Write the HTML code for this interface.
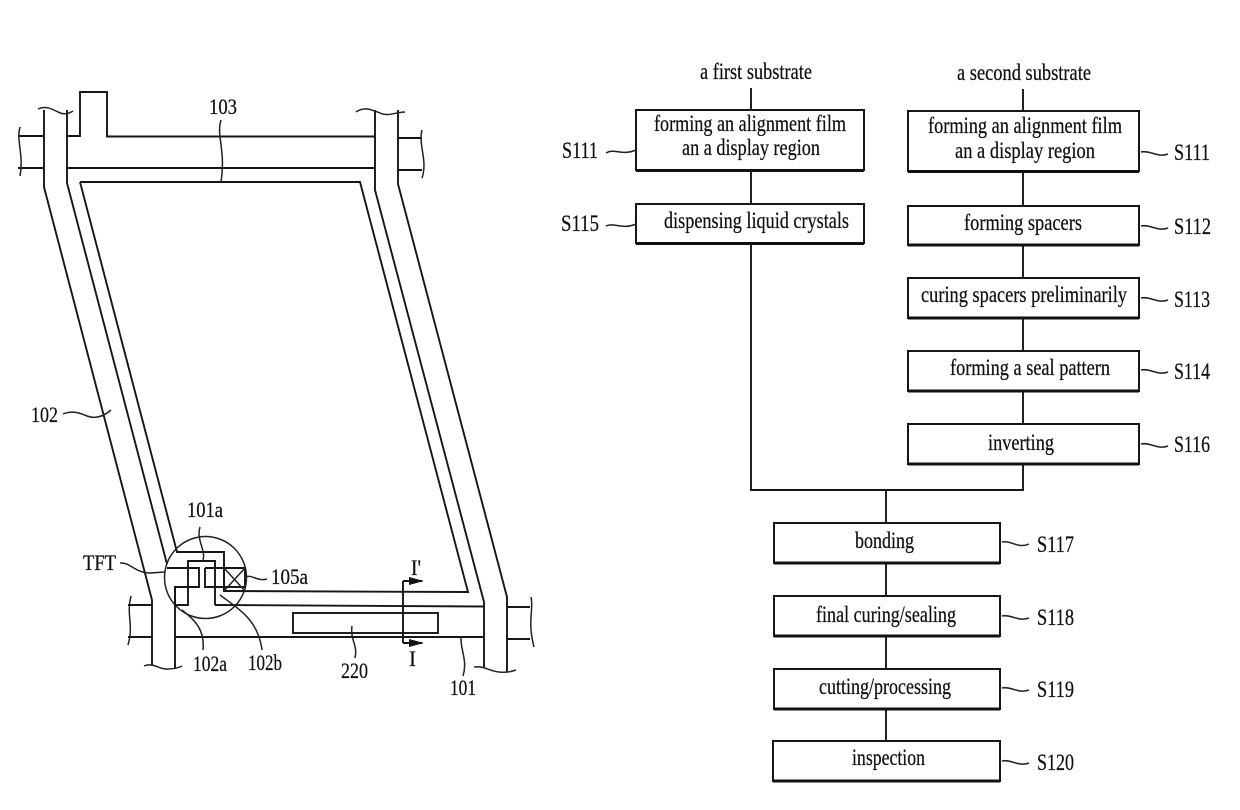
<!DOCTYPE html>
<html><head><meta charset="utf-8"><style>
html,body{margin:0;padding:0;background:#fff}
svg{display:block}
text{font-family:"Liberation Serif",serif;font-size:23px;fill:#111;stroke:#111;stroke-width:.25}
.s{font-size:22px}
.l{fill:none;stroke:#161616;stroke-width:1.9}
.t{fill:none;stroke:#222;stroke-width:1.5}
.b{fill:none;stroke:#161616;stroke-width:2}
.g{fill:none;stroke:#111;stroke-width:3}
</style></head><body>
<svg width="1240" height="810" viewBox="0 0 1240 810" xmlns="http://www.w3.org/2000/svg">
<!-- left panel -->
<path class="l" d="M18 136H44M18 168H44M67 136H80V92H107V136.500H375M67 168H375M398 138H422M398 170H422"/>
<path class="l" d="M44 110V187L152 600V666M67 110V183L167 564M175 587V668"/>
<path class="l" d="M375 110V190L484 602V668M398 110V184L507 597V672"/>
<path class="l" d="M80 182H360L468 592L224 591V552H177L80 182"/>
<path class="l" d="M128 605H152M128 637H152M175 637H484M215 605L484 606.500M507 607H530M507 639H530"/>
<circle class="t" cx="205.500" cy="577.500" r="41"/>
<path class="l" d="M167 568H199V587H175V605H188V561H215V605M205 568V587H245V568H205M224 568V591H245"/>
<path class="t" d="M224 568L245 591M245 568L224 591"/>
<rect class="l" x="293" y="613" width="145" height="20"/>
<path class="l" d="M403 581V643M403 581H422M403 643H422"/>
<path d="M409 577L424 581L409 585Z M409 639L424 643L409 647Z" fill="#111"/>
<!-- wavy breaks -->
<path class="t" d="M38 109C46 105 54 110 60 113C66 115 70 113 73 111M20 127C16 140 24 155 20 176M356 112C365 106 372 110 380 113C388 117 396 112 405 112M422 130C418 145 428 160 422 178M144 666C153 662 160 670 168 669C173 669 178 668 182 666M474 667C485 665 492 674 507 672C510 672 513 671 516 670M131 596C126 615 134 625 128 645M531 597C534 610 527 620 534 647"/>
<path class="t" d="M221 120C216 135 226 150 221 182M200 527C196 540 206 550 203 560M63 414C72 410 80 413 87 416C95 419 103 417 111 410M120 563C130 562 135 573 150 573L165 572M245 577C252 574 258 582 267 579"/>
<path class="t" d="M182 610C195 620 205 630 203 650M220 595C240 610 258 620 262 650M352 626C350 640 358 645 355 658M461 636C460 650 468 660 463 676"/>
<text class="s" x="209" y="114" textLength="28" lengthAdjust="spacingAndGlyphs">103</text>
<text class="s" x="31" y="422" textLength="27" lengthAdjust="spacingAndGlyphs">102</text>
<text class="s" x="187" y="517" textLength="36" lengthAdjust="spacingAndGlyphs">101a</text>
<text class="s" x="83" y="570" textLength="33" lengthAdjust="spacingAndGlyphs">TFT</text>
<text class="s" x="271" y="584" textLength="37" lengthAdjust="spacingAndGlyphs">105a</text>
<text class="s" x="193" y="671" textLength="34" lengthAdjust="spacingAndGlyphs">102a</text>
<text class="s" x="248" y="670" textLength="34" lengthAdjust="spacingAndGlyphs">102b</text>
<text class="s" x="341" y="678" textLength="27" lengthAdjust="spacingAndGlyphs">220</text>
<text class="s" x="450" y="695" textLength="26" lengthAdjust="spacingAndGlyphs">101</text>
<text class="s" x="411" y="575" textLength="10" lengthAdjust="spacingAndGlyphs">I'</text>
<text class="s" x="409" y="666" textLength="7" lengthAdjust="spacingAndGlyphs">I</text>
<!-- flow connectors -->
<path class="l" d="M751 88V110M751 171V204M751 244V490H1023V464M1023 89V111M1023 172V206M1023 245V278M1023 318V351M1023 391V424M886 490V523M886 563V596M886 636V669M886 709V741"/>
<!-- boxes -->
<g>
<rect class="b" x="636" y="110" width="228" height="60"/>
<rect class="b" x="636" y="204" width="228" height="39"/>
<rect class="b" x="908" y="111" width="231" height="60"/>
<rect class="b" x="908" y="206" width="231" height="39"/>
<rect class="b" x="908" y="278" width="231" height="40"/>
<rect class="b" x="908" y="351" width="231" height="40"/>
<rect class="b" x="908" y="424" width="231" height="40"/>
<rect class="b" x="774" y="523" width="226" height="40"/>
<rect class="b" x="774" y="596" width="226" height="40"/>
<rect class="b" x="774" y="669" width="226" height="40"/>
<rect class="b" x="773" y="741" width="227" height="40"/>
</g>
<path class="g" d="M636 170.500H864M636 243.500H864M908 171.500H1139M908 245H1139M908 318H1139M908 391H1139M908 464H1139M774 563H1000M774 636H1000M774 709H1000M773 781H1000"/>
<!-- flow ticks -->
<path class="t" d="M606 153C614 148 622 156 636 150M606 226C614 222 622 230 636 224M1141 152C1150 150 1158 158 1168 154M1141 226C1150 224 1158 232 1168 228M1141 298C1150 296 1158 304 1168 300M1141 370C1150 368 1158 376 1168 372M1141 444C1150 442 1158 450 1168 446M1002 542C1011 540 1018 549 1029 544M1002 616C1011 614 1018 622 1029 618M1002 688C1011 686 1018 694 1029 690M1002 761C1011 759 1018 767 1029 763"/>
<!-- flow text -->
<text x="700" y="79" textLength="112" lengthAdjust="spacingAndGlyphs">a first substrate</text>
<text x="957" y="80" textLength="134" lengthAdjust="spacingAndGlyphs">a second substrate</text>
<text x="654" y="131" textLength="192" lengthAdjust="spacingAndGlyphs">forming an alignment film</text>
<text x="682" y="155" textLength="138" lengthAdjust="spacingAndGlyphs">an a display region</text>
<text x="664" y="228" textLength="185" lengthAdjust="spacingAndGlyphs">dispensing liquid crystals</text>
<text x="928" y="133" textLength="194" lengthAdjust="spacingAndGlyphs">forming an alignment film</text>
<text x="955" y="158" textLength="140" lengthAdjust="spacingAndGlyphs">an a display region</text>
<text x="964" y="230" textLength="118" lengthAdjust="spacingAndGlyphs">forming spacers</text>
<text x="921" y="302" textLength="206" lengthAdjust="spacingAndGlyphs">curing spacers preliminarily</text>
<text x="950" y="375" textLength="160" lengthAdjust="spacingAndGlyphs">forming a seal pattern</text>
<text x="988" y="450" textLength="66" lengthAdjust="spacingAndGlyphs">inverting</text>
<text x="855" y="548" textLength="59" lengthAdjust="spacingAndGlyphs">bonding</text>
<text x="816" y="622" textLength="140" lengthAdjust="spacingAndGlyphs">final curing/sealing</text>
<text x="819" y="694" textLength="132" lengthAdjust="spacingAndGlyphs">cutting/processing</text>
<text x="852" y="765" textLength="73" lengthAdjust="spacingAndGlyphs">inspection</text>
<text x="562" y="158" textLength="36" lengthAdjust="spacingAndGlyphs">S111</text>
<text x="561" y="231" textLength="38" lengthAdjust="spacingAndGlyphs">S115</text>
<text x="1174" y="160" textLength="36" lengthAdjust="spacingAndGlyphs">S111</text>
<text x="1174" y="234" textLength="37" lengthAdjust="spacingAndGlyphs">S112</text>
<text x="1174" y="307" textLength="36" lengthAdjust="spacingAndGlyphs">S113</text>
<text x="1174" y="379" textLength="36" lengthAdjust="spacingAndGlyphs">S114</text>
<text x="1174" y="452" textLength="36" lengthAdjust="spacingAndGlyphs">S116</text>
<text x="1037" y="552" textLength="37" lengthAdjust="spacingAndGlyphs">S117</text>
<text x="1037" y="625" textLength="37" lengthAdjust="spacingAndGlyphs">S118</text>
<text x="1037" y="697" textLength="37" lengthAdjust="spacingAndGlyphs">S119</text>
<text x="1037" y="770" textLength="37" lengthAdjust="spacingAndGlyphs">S120</text>
</svg>
</body></html>
